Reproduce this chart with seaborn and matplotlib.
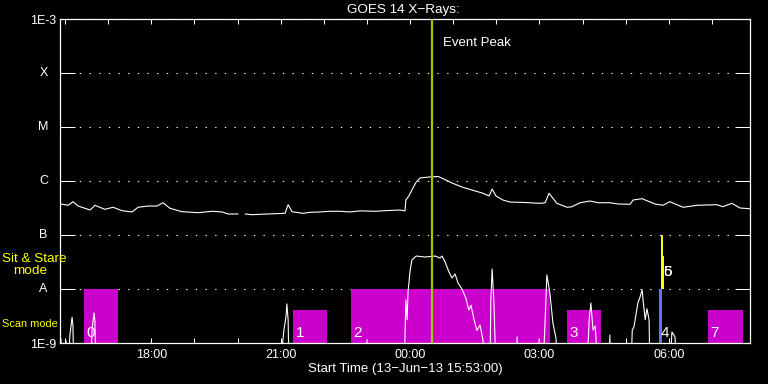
import numpy as np
import pandas as pd
import matplotlib
matplotlib.use('Agg')
import matplotlib.pyplot as plt
import matplotlib.ticker as mticker
import matplotlib.transforms as mtransforms
import seaborn as sns

# ------------------------------------------------------------------
# data (time in hours after start 13-Jun-13 15:53:00)
# ------------------------------------------------------------------
long_t = [0.02, 0.19, 0.30, 0.42, 0.70, 0.81, 1.04, 1.23, 1.44, 1.67, 1.81,
          2.04, 2.25, 2.39, 2.55, 2.83, 3.20, 3.53, 3.76, 3.90, 4.13, 4.20,
          4.29, 4.45, 4.82, 5.22, 5.29, 5.38, 5.63, 5.80, 6.03, 6.26, 6.49,
          6.72, 6.96, 7.30, 7.65, 7.88, 8.00, 8.02, 8.09, 8.16, 8.26, 8.35,
          8.58, 8.77, 8.90, 9.09, 9.32, 9.55, 9.79, 9.95, 10.02, 10.11, 10.27,
          10.43, 10.78, 11.13, 11.25, 11.34, 11.52, 11.76, 11.87, 12.06, 12.29,
          12.48, 12.75, 12.94, 13.22, 13.29, 13.50, 13.61, 13.80, 13.98, 14.14,
          14.45, 14.77, 15.23, 15.37, 15.58, 15.77, 16.00]
long_flux = [3.75e-7, 3.55e-7, 4.14e-7, 3.44e-7, 2.90e-7, 3.55e-7, 2.99e-7, 3.26e-7,
             2.82e-7, 2.67e-7, 3.26e-7, 3.44e-7, 3.44e-7, 3.96e-7, 3.12e-7, 2.70e-7,
             2.59e-7, 2.75e-7, 2.67e-7, 2.45e-7, 2.45e-7, np.nan, 2.45e-7, 2.38e-7,
             2.45e-7, 2.52e-7, 3.64e-7, 2.70e-7, 2.52e-7, 2.63e-7, 2.67e-7, 2.75e-7,
             2.75e-7, 2.67e-7, 2.80e-7, 2.75e-7, 2.85e-7, 2.90e-7, 2.80e-7, 4.45e-7,
             5.28e-7, 6.81e-7, 9.58e-7, 1.14e-6, 1.19e-6, 1.21e-6, 1.09e-6, 9.18e-7,
             7.74e-7, 6.81e-7, 6.00e-7, 5.28e-7, 7.11e-7, 5.28e-7, 4.45e-7, 4.08e-7,
             4.00e-7, 3.86e-7, 3.96e-7, 5.92e-7, 3.86e-7, 3.26e-7, 3.34e-7, 3.96e-7,
             4.26e-7, 3.96e-7, 3.96e-7, 3.75e-7, 3.71e-7, 4.45e-7, 4.70e-7, 4.31e-7,
             3.75e-7, 3.55e-7, 4.14e-7, 3.26e-7, 3.55e-7, 3.64e-7, 3.34e-7, 3.86e-7,
             3.16e-7, 3.07e-7]

short_t = [0.02, 0.07, 0.14, 0.18, 0.23, 0.28, 0.30, 0.32,
           0.72, 0.74, 0.79, 0.81, 0.83,
           5.10, 5.19, 5.24, 5.26, 5.29, 5.31,
           7.10, 7.12, 7.14,
           7.98, 8.02, 8.05, 8.07, 8.12, 8.16, 8.26, 8.46, 8.70, 8.81, 8.86, 8.93,
           9.02, 9.09, 9.16, 9.23, 9.32, 9.41, 9.48, 9.53, 9.60, 9.67, 9.74, 9.81, 9.88,
           9.97, 9.99, 10.02, 10.06, 10.11,
           10.58, 10.60, 10.62, 11.09, 11.11, 11.13,
           11.20, 11.25, 11.29, 11.36, 11.43, 11.50, 11.55,
           12.22, 12.27, 12.31, 12.36, 12.41, 12.48,
           12.73, 12.75, 12.77,
           13.24, 13.27, 13.31, 13.40, 13.45, 13.50, 13.52, 13.57, 13.61, 13.66, 13.68,
           14.14, 14.19, 14.26, 14.31, 16.00]
short_flux = [1.2e-9, 3e-10, 1.1e-9, 3e-10, 1.4e-9, 3.0e-9, 2.1e-9, 3e-10,
              3e-10, 1.7e-9, 3.6e-9, 2.5e-9, 3e-10,
              3e-10, 1.7e-9, 3.0e-9, 5.3e-9, 2.7e-9, 3e-10,
              3e-10, 1.15e-9, 3e-10,
              3e-10, 6.3e-9, 2.7e-9, 8.8e-9, 2.25e-8, 3.44e-8, 4.08e-8, 3.91e-8, 4.08e-8,
              3.75e-8, 4.08e-8, 3.16e-8,
              2.06e-8, 1.6e-8, 1.9e-8, 1.29e-8, 1.0e-8, 6.8e-9, 4.1e-9, 5.0e-9, 2.7e-9,
              1.7e-9, 2.15e-9, 1.1e-9, 3e-10,
              3e-10, 6e-9, 2.35e-8, 6e-9, 3e-10,
              3e-10, 1.3e-9, 3e-10, 3e-10, 1.2e-9, 3e-10,
              3e-10, 2.7e-9, 1.82e-8, 8.4e-9, 2.35e-9, 1.24e-9, 3e-10,
              3e-10, 2.7e-9, 5.5e-9, 1.74e-9, 2.06e-9, 3e-10,
              3e-10, 1.4e-9, 3e-10,
              3e-10, 1.74e-9, 2.0e-9, 5.5e-9, 7.1e-9, 9.6e-9, 6.2e-9, 2.7e-9, 4.3e-9,
              2.7e-9, 3e-10,
              3e-10, 1.6e-9, 1.3e-9, 3e-10, 3e-10]

# observation boxes
box_labels = ['0', '1', '2', '3', '4', '5', '6', '7']
box_start = [0.56, 5.41, 6.75, 11.76, 13.89, 13.94, 13.94, 15.03]
box_end = [1.35, 6.18, 11.36, 12.54, 13.96, 13.98, 14.00, 15.83]
box_bottom = [1e-9, 1e-9, 1e-9, 1e-9, 1e-9, 1e-8, 1e-8, 1e-9]
box_top = [1e-8, 4e-9, 1e-8, 4e-9, 1e-8, 1e-7, 4e-8, 4e-9]
box_kind = ['stare', 'scan', 'stare', 'scan', 'blue', 'yellow', 'yellow', 'scan']

peak_t = 8.62

major_hours = [2.117, 5.117, 8.117, 11.117, 14.117]
major_labels = ['18:00', '21:00', '00:00', '03:00', '06:00']
minor_hours = [0.117 + h for h in range(16)]

level_values = [1e-9, 1e-8, 1e-7, 1e-6, 1e-5, 1e-4, 1e-3]
level_labels = ['1E-9', 'A', 'B', 'C', 'M', 'X', '1E-3']

# ------------------------------------------------------------------
# style
# ------------------------------------------------------------------
sns.set_theme(style='dark', rc={
    'axes.facecolor': 'black', 'figure.facecolor': 'black',
    'axes.edgecolor': 'white', 'text.color': 'white',
    'xtick.color': 'white', 'ytick.color': 'white',
    'axes.labelcolor': 'white', 'axes.axisbelow': True,
})
plt.rcParams['font.family'] = ['Liberation Sans', 'DejaVu Sans']

kind_colors = {'stare': '#CC00CC', 'scan': '#CC00CC',
               'blue': '#6B6BFF', 'yellow': '#FFFF00'}

W, H = 768, 384
fig = plt.figure(figsize=(W / 100, H / 100), dpi=100)
ax = fig.add_axes([60 / W, 41 / H, 690 / W, 324 / H])

# boxes
ax.bar(box_start, np.array(box_top) - np.array(box_bottom), bottom=box_bottom,
       width=np.array(box_end) - np.array(box_start), align='edge',
       color=[kind_colors[k] for k in box_kind], linewidth=0, zorder=2)

# curves
df_long = pd.DataFrame({'t': long_t, 'flux': long_flux})
df_long['seg'] = df_long['flux'].isna().cumsum()
df_long = df_long.dropna()
sns.lineplot(data=df_long, x='t', y='flux', units='seg', estimator=None,
             color='white', linewidth=0.8, ax=ax, legend=False, zorder=3)

df_short = pd.DataFrame({'t': short_t, 'flux': short_flux})
sns.lineplot(data=df_short, x='t', y='flux', estimator=None,
             color='white', linewidth=0.8, ax=ax, legend=False, zorder=3)

ax.axvline(peak_t, color='#9BCB00', linewidth=1.6, zorder=5)

# box numbers; the short yellow boxes carry theirs a bit higher
for lab, s, b, k in zip(box_labels, box_start, box_bottom, box_kind):
    dy = 9 if k == 'yellow' else 4
    ax.annotate(lab, (s, b), xytext=(1.5, dy), textcoords='offset points',
                ha='left', va='baseline', fontsize=11, color='white', zorder=4)

ax.set_yscale('log')
ax.set_ylim(1e-9, 1e-3)
ax.set_xlim(0, 16)
ax.set_xlabel('')
ax.set_ylabel('')

ax.set_xticks(major_hours, major_labels)
ax.set_xticks(minor_hours, minor=True)
ax.tick_params(axis='x', which='both', direction='in', length=3.6, width=0.72,
               top=True, bottom=True, labelsize=9, pad=4.5)

ax.set_yticks(level_values, ['1E-9', '', '', '', '', '', '1E-3'])
ax.yaxis.set_minor_locator(mticker.NullLocator())
ax.tick_params(axis='y', which='major', direction='in', length=10.8, width=0.72,
               left=True, right=True, labelsize=9, pad=2.5)

ax.grid(axis='y', which='major', color='white', linestyle=(0, (1.2, 7.5)),
        linewidth=0.8)
ax.grid(axis='x', visible=False)

for sp in ax.spines.values():
    sp.set_color('white')
    sp.set_linewidth(0.9)

trans = mtransforms.blended_transform_factory(fig.transFigure, ax.transData)
for v, lab in zip(level_values[1:-1], level_labels[1:-1]):
    ax.text(43.5 / W, v, lab, transform=trans, ha='center', va='center',
            fontsize=9, color='white')

fig.text(2 / W, 1 - 259 / H, 'Sit & Stare', color='#FFFF00', fontsize=9.7,
         ha='left', va='center')
fig.text(13 / W, 1 - 271 / H, 'mode', color='#FFFF00', fontsize=9.7,
         ha='left', va='center')
fig.text(2 / W, 1 - 324 / H, 'Scan mode', color='#FFFF00', fontsize=7.9,
         ha='left', va='center')

fig.text(403 / W, 1 - 9.5 / H, 'GOES 14 X\u2212Rays:', fontsize=9.7,
         ha='center', va='center')
fig.text(405 / W, 1 - 369 / H, 'Start Time (13\u2212Jun\u221213 15:53:00)',
         fontsize=9.5, ha='center', va='center')
fig.text(443 / W, 1 - 43 / H, 'Event Peak', fontsize=9.5, ha='left', va='center')

fig.savefig('out.png', dpi=100, facecolor='black')
